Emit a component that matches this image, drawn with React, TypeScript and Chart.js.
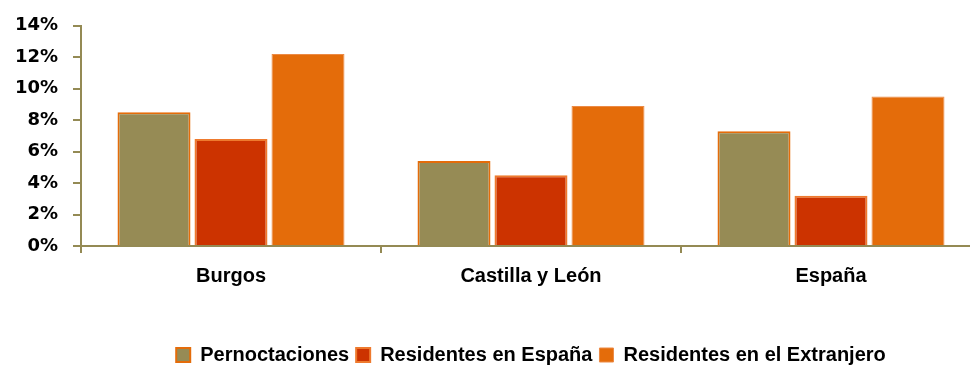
import React, { useEffect, useRef } from "react";
import { Chart, registerables } from "chart.js";

Chart.register(...registerables);

const categories = ["Burgos", "Castilla y León", "España"];
const seriesNames = ["Pernoctaciones", "Residentes en España", "Residentes en el Extranjero"];
const pernoctaciones = [8.5, 5.4, 7.3];
const residentesEspana = [6.8, 4.5, 3.2];
const residentesExtranjero = [12.2, 8.9, 9.5];
const yTicks = [0, 2, 4, 6, 8, 10, 12, 14];

const OLIVE = "#968B55";
const RED = "#CC3300";
const ORANGE = "#E46C0A";
const AXIS = "#948A54";
const FONT = "'DejaVu Sans', sans-serif";
const LABEL_FONT = "'Liberation Sans', Arial, sans-serif";

export default function App() {
  const ref = useRef<HTMLCanvasElement | null>(null);

  useEffect(() => {
    if (!ref.current) return;
    const chart = new Chart(ref.current, {
      type: "bar",
      data: {
        labels: categories,
        datasets: [
          {
            label: seriesNames[0],
            data: pernoctaciones,
            backgroundColor: OLIVE,
            borderColor: ORANGE,
            borderWidth: 2,
            categoryPercentage: 0.77,
            barPercentage: 0.948,
          },
          {
            label: seriesNames[1],
            data: residentesEspana,
            backgroundColor: RED,
            borderColor: "#EE7A2E",
            borderWidth: 2,
            categoryPercentage: 0.77,
            barPercentage: 0.948,
          },
          {
            label: seriesNames[2],
            data: residentesExtranjero,
            backgroundColor: ORANGE,
            borderColor: "#EC8A45",
            borderWidth: 1,
            categoryPercentage: 0.77,
            barPercentage: 0.948,
          },
        ],
      },
      options: {
        animation: false,
        responsive: false,
        devicePixelRatio: 1,
        layout: { padding: { top: 23, right: 19, bottom: -8, left: 0 } },
        plugins: {
          tooltip: { enabled: false },
          legend: {
            position: "bottom",
            fullSize: false,
            labels: {
              boxWidth: 14,
              boxHeight: 14,
              padding: 7,
              color: "#000",
              font: { family: LABEL_FONT, size: 20, weight: "bold" },
            },
          },
        },
        scales: {
          x: {
            grid: {
              offset: true,
              drawOnChartArea: false,
              drawTicks: true,
              tickLength: 7,
              color: AXIS,
              lineWidth: 2,
            },
            border: { color: AXIS, width: 2 },
            ticks: {
              color: "#000",
              padding: 11,
              font: { family: LABEL_FONT, size: 20, weight: "bold" },
            },
            afterFit: (scale: any) => {
              scale.height = 92;
            },
          },
          y: {
            min: 0,
            max: 14,
            afterBuildTicks: (scale: any) => {
              scale.ticks = yTicks.map((v) => ({ value: v }));
            },
            grid: {
              drawOnChartArea: false,
              drawTicks: true,
              tickLength: 8,
              color: AXIS,
              lineWidth: 2,
            },
            border: { color: AXIS, width: 2 },
            ticks: {
              color: "#000",
              padding: 15,
              font: { family: FONT, size: 18, weight: "bold" },
              callback: (v: any) => `${v}%`,
            },
            afterFit: (scale: any) => {
              scale.width = 81;
            },
          },
        },
      },
    });
    return () => chart.destroy();
  }, []);

  return (
    <div
      style={{
        position: "fixed",
        left: 0,
        top: 0,
        width: 970,
        height: 367,
        overflow: "hidden",
        background: "#fff",
      }}
    >
      <canvas ref={ref} width={1000} height={367} style={{ display: "block" }} />
    </div>
  );
}
